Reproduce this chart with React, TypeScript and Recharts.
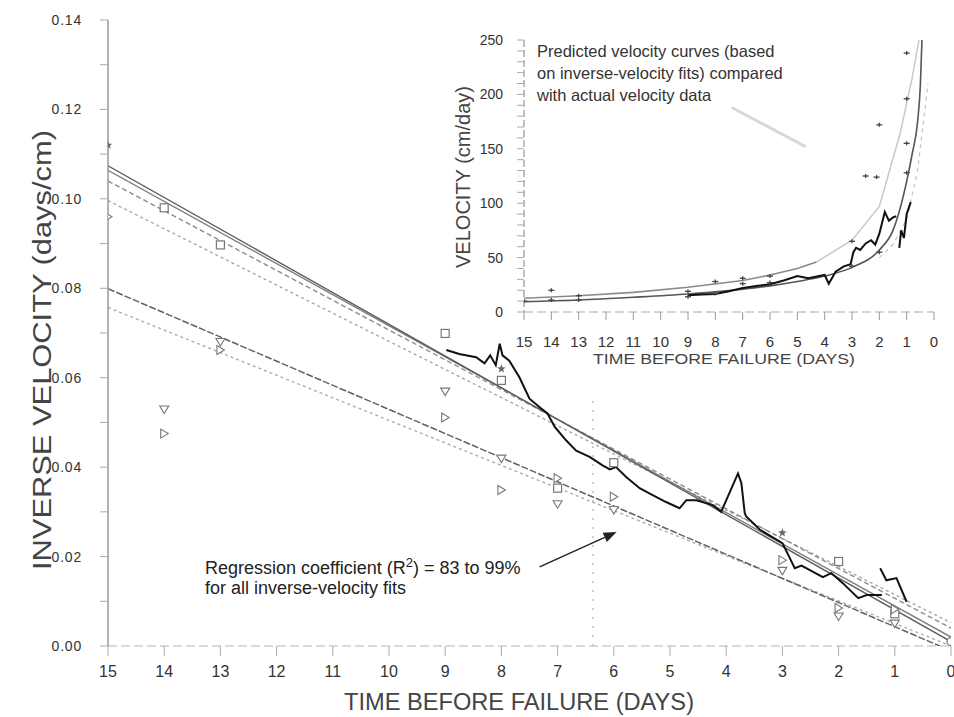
import React from "react";
import { ComposedChart, Line, Scatter, XAxis, YAxis, ReferenceLine } from "recharts";

const FONT = '"Liberation Sans", Arial, Helvetica, sans-serif';

// ---------- main panel: inverse velocity vs time before failure ----------
const dayTicks = [0, 1, 2, 3, 4, 5, 6, 7, 8, 9, 10, 11, 12, 13, 14, 15];
const invTicks = [0, 0.01, 0.02, 0.03, 0.04, 0.05, 0.06, 0.07, 0.08, 0.09, 0.1, 0.11, 0.12, 0.13, 0.14];

// straight-line fits (end points)
const fitX = [15, 0];
const fitSolidA = [0.1074, 0.001];
const fitSolidB = [0.1064, 0.002];
const fitDashA = [0.104, 0.004];
const fitDashB = [0.0996, 0.0052];
const fitLowX = [15, 0.2];
const fitLowSolid = [0.0799, 0.0];
const fitLowDot = [0.0757, 0.0];

// measured inverse velocity (black trace)
const traceX = [8.98, 8.75, 8.45, 8.3, 8.2, 8.1, 8.03, 7.98, 7.86, 7.68, 7.5, 7.32, 7.18, 7.05, 6.85, 6.67, 6.43, 6.2, 6.07, 5.96, 5.78, 5.54, 5.3, 5.07, 4.83, 4.71, 4.53, 4.24, 4.09, 3.79, 3.73, 3.67, 3.64, 3.4, 3.0, 2.96, 2.78, 2.66, 2.28, 2.13, 1.92, 1.65, 1.5, 1.23];
const traceY = [0.0662, 0.0653, 0.0646, 0.0632, 0.065, 0.0628, 0.0676, 0.065, 0.0638, 0.0601, 0.0553, 0.0534, 0.052, 0.049, 0.046, 0.0437, 0.0423, 0.0404, 0.0395, 0.04, 0.0378, 0.0353, 0.0337, 0.0322, 0.0308, 0.0326, 0.0326, 0.0315, 0.03, 0.0386, 0.0364, 0.0297, 0.0289, 0.026, 0.023, 0.022, 0.0174, 0.018, 0.0154, 0.0163, 0.014, 0.0107, 0.0114, 0.0114];
const trace2X = [1.26, 1.15, 0.97, 0.79];
const trace2Y = [0.0174, 0.0147, 0.0152, 0.0099];

// point markers
const squareX = [14, 13, 9, 8, 7, 6, 2, 1];
const squareY = [0.098, 0.0897, 0.0699, 0.0594, 0.0353, 0.041, 0.0189, 0.0072];
const starX = [15, 8, 3];
const starY = [0.112, 0.062, 0.0253];
const triDownX = [14, 13, 9, 8, 7, 6, 3, 2, 1];
const triDownY = [0.0529, 0.068, 0.0569, 0.0419, 0.0317, 0.0304, 0.0168, 0.0066, 0.005];
const triRightX = [15, 14, 13, 9, 8, 7, 6, 3, 2, 1];
const triRightY = [0.096, 0.0475, 0.0662, 0.0511, 0.0349, 0.0375, 0.0334, 0.0192, 0.0085, 0.0082];
const circleX = [0];
const circleY = [0.001];

// ---------- inset: velocity ----------
const velTicks = [0, 10, 20, 30, 40, 50, 60, 70, 80, 90, 100, 110, 120, 130, 140, 150, 160, 170, 180, 190, 200, 210, 220, 230, 240, 250];

const predAX = [15, 13, 11, 9, 8, 7, 6, 5, 4, 3, 2, 1.5, 1, 0.8, 0.6, 0.5, 0.44];
const predAY = [9.5, 11, 13.5, 16.5, 18.5, 21, 24, 28, 33, 41, 57, 75, 120, 145, 175, 208, 250];
const predBX = [15, 13, 11, 9, 7, 6, 5, 4.3];
const predBY = [12.6, 15, 18, 22.7, 29, 34, 40, 46];
const predCX = [4.3, 3, 2, 1.24, 0.8, 0.55];
const predCY = [46, 66, 97, 164, 215, 250];
const predDX = [2, 1.5, 1, 0.6, 0.22];
const predDY = [50, 62, 85, 130, 210];

const velX = [9, 8.5, 8, 7.5, 7, 6.5, 6, 5.5, 5, 4.6, 4.2, 4, 3.85, 3.6, 3.3, 3.05, 2.95, 2.85, 2.7, 2.5, 2.3, 2.15, 2.0, 1.8, 1.65, 1.5, 1.38];
const velY = [15.5, 16, 16.5, 19, 22, 24, 25.5, 29, 33, 31, 33, 34, 26, 37, 42, 44, 55, 59, 57, 63, 66, 62, 72, 92, 84, 87, 88];
const vel2X = [1.27, 1.2, 1.1, 1.0, 0.85];
const vel2Y = [59, 75, 68, 90, 101];

const velMarkX = [15, 14, 14, 13, 13, 9, 9, 8, 8, 7, 7, 6, 6, 3, 3, 2.5, 2.1, 2, 2, 1, 1, 1, 1];
const velMarkY = [10, 20, 11, 15, 11, 19, 14, 28, 17, 31, 26, 33, 27, 65, 42, 125, 124, 172, 55, 238, 196, 155, 128];

const pts = (xs: number[], ys: number[]) => xs.map((x, i) => ({ x, y: ys[i] }));

// ---------- shapes ----------
const MARK = "#777";

const TriDown = (p: any) => {
  const { cx, cy } = p;
  const s = 4.5;
  return <polygon points={`${cx - s},${cy - 3.5} ${cx + s},${cy - 3.5} ${cx},${cy + 4}`} fill="#fff" stroke={MARK} strokeWidth={1.1} />;
};
const TriRight = (p: any) => {
  const { cx, cy } = p;
  const s = 4.5;
  return <polygon points={`${cx - 3.5},${cy - s} ${cx - 3.5},${cy + s} ${cx + 4},${cy}`} fill="#fff" stroke={MARK} strokeWidth={1.1} />;
};
const Square = (p: any) => <rect x={p.cx - 4} y={p.cy - 4} width={8} height={8} fill="#fff" stroke={MARK} strokeWidth={1.2} />;
const Circle = (p: any) => <circle cx={p.cx} cy={p.cy} r={4} fill="#fff" stroke={MARK} strokeWidth={1.2} />;
const Star = (p: any) => {
  const { cx, cy } = p;
  const d = [];
  for (let i = 0; i < 10; i++) {
    const r = i % 2 === 0 ? 4.5 : 1.9;
    const a = -Math.PI / 2 + (i * Math.PI) / 5;
    d.push(`${cx + r * Math.cos(a)},${cy + r * Math.sin(a)}`);
  }
  return <polygon points={d.join(" ")} fill="#666" />;
};
const Plus = (p: any) => (
  <g stroke="#444" strokeWidth={1.3}>
    <line x1={p.cx - 3} y1={p.cy} x2={p.cx + 3} y2={p.cy} />
    <line x1={p.cx} y1={p.cy - 2} x2={p.cx} y2={p.cy + 2} />
  </g>
);

const Arrow = (p: any) => {
  const { x1, y1, x2, y2 } = p;
  const a = Math.atan2(y2 - y1, x2 - x1);
  const L = 13;
  const W = 5;
  const bx = x2 - L * Math.cos(a);
  const by = y2 - L * Math.sin(a);
  const px = -Math.sin(a) * W;
  const py = Math.cos(a) * W;
  return (
    <g>
      <line x1={x1} y1={y1} x2={bx} y2={by} stroke="#222" strokeWidth={1.5} />
      <polygon points={`${x2},${y2} ${bx + px},${by + py} ${bx - px},${by - py}`} fill="#222" />
    </g>
  );
};

const MainXTick = (p: any) => (
  <text x={p.x} y={p.y} dy="0.71em" textAnchor="middle" fontSize={16} fill="#333" fontFamily={FONT}>
    {p.payload.value}
  </text>
);
const MainYTick = (p: any) => {
  const v = p.payload.value;
  if (Math.round(v * 100) % 2 !== 0) return <g />;
  return (
    <text x={p.x} y={p.y} dy="0.36em" textAnchor="end" fontSize={14} letterSpacing={0.8} fill="#333" fontFamily={FONT}>
      {v.toFixed(2)}
    </text>
  );
};
const InsetXTick = (p: any) => (
  <text x={p.x} y={p.y} dy="0.71em" textAnchor="middle" fontSize={15} fill="#333" fontFamily={FONT}>
    {p.payload.value}
  </text>
);
const InsetYTick = (p: any) => {
  const v = p.payload.value;
  if (v % 50 !== 0) return <g />;
  return (
    <text x={p.x} y={p.y} dy="0.36em" textAnchor="end" fontSize={14} fill="#333" fontFamily={FONT}>
      {v}
    </text>
  );
};

export default function App() {
  return (
    <div style={{ position: "absolute", left: 0, top: 0, width: 954, height: 717, background: "#fff", fontFamily: FONT }}>
      <ComposedChart width={954} height={717} margin={{ top: 20, right: 3, bottom: 0, left: 0 }}>
        <XAxis
          type="number"
          dataKey="x"
          domain={[0, 15]}
          reversed
          allowDataOverflow
          ticks={dayTicks}
          interval={0}
          height={71}
          tickSize={10}
          tickMargin={10}
          tick={MainXTick}
          axisLine={{ stroke: "#b5b5b5", strokeDasharray: "9 4", strokeWidth: 1.2 }}
          tickLine={{ stroke: "#aaa" }}
        />
        <YAxis
          type="number"
          dataKey="y"
          domain={[0, 0.14]}
          allowDataOverflow
          ticks={invTicks}
          interval={0}
          width={108}
          tickSize={8}
          tickMargin={18}
          tick={MainYTick}
          axisLine={{ stroke: "#999", strokeWidth: 1.5 }}
          tickLine={{ stroke: "#aaa" }}
        />
        <ReferenceLine segment={[{ x: 6.37, y: 0.0 }, { x: 6.37, y: 0.056 }]} stroke="#cfcfcf" strokeWidth={2} strokeDasharray="2 7" />
        <Line data={pts(fitX, fitDashB)} dataKey="y" stroke="#a8a8a8" strokeWidth={1.4} strokeDasharray="3 3" dot={false} isAnimationActive={false} />
        <Line data={pts(fitX, fitDashA)} dataKey="y" stroke="#8c8c8c" strokeWidth={1.4} strokeDasharray="5 3" dot={false} isAnimationActive={false} />
        <Line data={pts(fitX, fitSolidB)} dataKey="y" stroke="#7a7a7a" strokeWidth={1.3} dot={false} isAnimationActive={false} />
        <Line data={pts(fitX, fitSolidA)} dataKey="y" stroke="#5e5e5e" strokeWidth={1.4} dot={false} isAnimationActive={false} />
        <Line data={pts(fitX, fitLowDot)} dataKey="y" stroke="#adadad" strokeWidth={1.4} strokeDasharray="3 3" dot={false} isAnimationActive={false} />
        <Line data={pts(fitLowX, fitLowSolid)} dataKey="y" stroke="#626262" strokeWidth={1.5} strokeDasharray="7 2" dot={false} isAnimationActive={false} />
        <Line data={pts(traceX, traceY)} dataKey="y" stroke="#111" strokeWidth={2} dot={false} isAnimationActive={false} />
        <Line data={pts(trace2X, trace2Y)} dataKey="y" stroke="#111" strokeWidth={2} dot={false} isAnimationActive={false} />
        <Scatter data={pts(squareX, squareY)} dataKey="y" shape={Square} isAnimationActive={false} />
        <Scatter data={pts(triDownX, triDownY)} dataKey="y" shape={TriDown} isAnimationActive={false} />
        <Scatter data={pts(triRightX, triRightY)} dataKey="y" shape={TriRight} isAnimationActive={false} />
        <Scatter data={pts(starX, starY)} dataKey="y" shape={Star} isAnimationActive={false} />
        <Scatter data={pts(circleX, circleY)} dataKey="y" shape={Circle} isAnimationActive={false} />
        <ReferenceLine segment={[{ x: 7.32, y: 0.0177 }, { x: 5.95, y: 0.0255 }]} shape={Arrow} />
      </ComposedChart>

      <div style={{ position: "absolute", left: 420, top: 20 }}>
        <ComposedChart width={530} height={360} margin={{ top: 20, right: 16, bottom: 0, left: 0 }}>
          <XAxis
            type="number"
            dataKey="x"
            domain={[0, 15]}
            reversed
            allowDataOverflow
            ticks={dayTicks}
            interval={0}
            height={68}
            tickSize={8}
            tickMargin={16}
            tick={InsetXTick}
            axisLine={{ stroke: "#aaa", strokeDasharray: "9 4", strokeWidth: 1.2 }}
            tickLine={{ stroke: "#999" }}
          />
          <YAxis
            type="number"
            dataKey="y"
            domain={[0, 250]}
            allowDataOverflow
            ticks={velTicks}
            interval={0}
            width={104}
            tickSize={7}
            tickMargin={14}
            tick={InsetYTick}
            axisLine={{ stroke: "#aaa", strokeDasharray: "7 3", strokeWidth: 1.5 }}
            tickLine={{ stroke: "#aaa" }}
          />
          <ReferenceLine segment={[{ x: 7.4, y: 188 }, { x: 4.7, y: 152 }]} stroke="#d8d8d8" strokeWidth={3} />
          <Line data={pts(predDX, predDY)} dataKey="y" stroke="#c4c4c4" strokeWidth={1.2} strokeDasharray="4 4" dot={false} isAnimationActive={false} />
          <Line data={pts(predCX, predCY)} dataKey="y" stroke="#c8c8c8" strokeWidth={1.5} dot={false} isAnimationActive={false} />
          <Line data={pts(predBX, predBY)} dataKey="y" stroke="#8a8a8a" strokeWidth={1.6} dot={false} isAnimationActive={false} />
          <Line data={pts(predAX, predAY)} dataKey="y" stroke="#555" strokeWidth={1.6} type="monotone" dot={false} isAnimationActive={false} />
          <Line data={pts(velX, velY)} dataKey="y" stroke="#111" strokeWidth={2} dot={false} isAnimationActive={false} />
          <Line data={pts(vel2X, vel2Y)} dataKey="y" stroke="#111" strokeWidth={2} dot={false} isAnimationActive={false} />
          <Scatter data={pts(velMarkX, velMarkY)} dataKey="y" shape={Plus} isAnimationActive={false} />
        </ComposedChart>
      </div>

      <svg width={954} height={717} style={{ position: "absolute", left: 0, top: 0, pointerEvents: "none" }} fontFamily={FONT}>
        <text transform="translate(42, 350) rotate(-90)" textAnchor="middle" dominantBaseline="central" fontSize={26} fill="#444" textLength={440} lengthAdjust="spacingAndGlyphs">
          INVERSE VELOCITY (days/cm)
        </text>
        <text x={519} y={710} textAnchor="middle" fontSize={23} fill="#444" textLength={350} lengthAdjust="spacingAndGlyphs">
          TIME BEFORE FAILURE (DAYS)
        </text>
        <text x={205} y={574} fontSize={18} fill="#222">
          Regression coefficient (R<tspan dy={-7} fontSize={13}>2</tspan>
          <tspan dy={7}>) = 83 to 99%</tspan>
        </text>
        <text x={205} y={594} fontSize={18} fill="#222">
          for all inverse-velocity fits
        </text>

        <text x={537} y={57} fontSize={16.5} fill="#333">Predicted velocity curves (based</text>
        <text x={537} y={79} fontSize={16.5} fill="#333">on inverse-velocity fits) compared</text>
        <text x={537} y={101} fontSize={16.5} fill="#333">with actual velocity data</text>
        <text transform="translate(463, 177) rotate(-90)" textAnchor="middle" dominantBaseline="central" fontSize={20} fill="#444" textLength={182} lengthAdjust="spacingAndGlyphs">
          VELOCITY (cm/day)
        </text>
        <text x={724} y={364} textAnchor="middle" fontSize={15.5} fill="#444" textLength={262} lengthAdjust="spacingAndGlyphs">
          TIME BEFORE FAILURE (DAYS)
        </text>
      </svg>
    </div>
  );
}
